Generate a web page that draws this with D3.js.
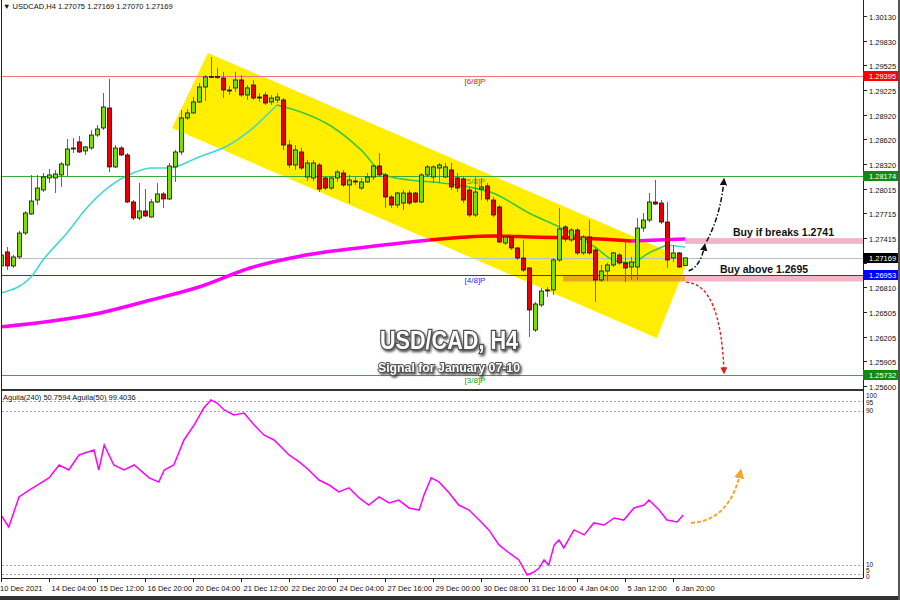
<!DOCTYPE html>
<html><head><meta charset="utf-8">
<script src="https://cdn.jsdelivr.net/npm/d3@7"></script>
<style>
body{margin:0;background:#fff}
svg{display:block}
text{font-family:"Liberation Sans",Arial,sans-serif}
</style></head>
<body><svg id="c" width="900" height="600"></svg>
<script>
// ---------------- DATA ----------------
// candles: [open, high, low, close] per H4 bar, from 10 Dec 2021 20:00
const candles = [
[1.27070,1.27229,1.27045,1.27204],[1.27241,1.27302,1.27020,1.27070],[1.27070,1.27204,1.27045,1.27180],
[1.27180,1.27498,1.27155,1.27473],[1.27473,1.27743,1.27449,1.27718],[1.27706,1.28184,1.27694,1.27865],
[1.27877,1.28184,1.27816,1.28024],[1.28000,1.28208,1.27975,1.28159],[1.28147,1.28257,1.28086,1.28184],
[1.28147,1.28245,1.27963,1.28196],[1.28184,1.28343,1.28037,1.28318],[1.28306,1.28624,1.28159,1.28502],
[1.28502,1.28637,1.28453,1.28514],[1.28588,1.28661,1.28453,1.28465],[1.28478,1.28539,1.28429,1.28527],
[1.28514,1.28734,1.28490,1.28673],[1.28673,1.28796,1.28649,1.28747],[1.28759,1.29187,1.28734,1.29016],
[1.29004,1.29359,1.28220,1.28282],[1.28282,1.28551,1.28269,1.28514],[1.28514,1.28539,1.28416,1.28429],
[1.28429,1.28453,1.27840,1.27853],[1.27853,1.27877,1.27632,1.27657],[1.27657,1.28086,1.27632,1.27743],
[1.27743,1.28012,1.27669,1.27682],[1.27669,1.27890,1.27660,1.27853],[1.27853,1.28086,1.27840,1.27951],
[1.27951,1.27975,1.27779,1.27890],[1.27890,1.28330,1.27877,1.28294],[1.28282,1.28490,1.28098,1.28465],
[1.28465,1.28979,1.28429,1.28882],[1.28882,1.28992,1.28857,1.28943],[1.28943,1.29138,1.28930,1.29077],
[1.29077,1.29310,1.29065,1.29261],[1.29261,1.29408,1.29089,1.29383],[1.29383,1.29628,1.29371,1.29390],
[1.29375,1.29493,1.29359,1.29390],[1.29371,1.29445,1.29126,1.29224],[1.29224,1.29273,1.29163,1.29215],
[1.29249,1.29445,1.29200,1.29347],[1.29347,1.29408,1.29138,1.29163],[1.29163,1.29285,1.29102,1.29249],
[1.29285,1.29347,1.29102,1.29126],[1.29138,1.29187,1.29077,1.29130],[1.29163,1.29200,1.29041,1.29065],
[1.29077,1.29163,1.29041,1.29126],[1.29102,1.29187,1.29065,1.29138],[1.29102,1.29126,1.28490,1.28551],
[1.28551,1.28612,1.28269,1.28306],[1.28306,1.28551,1.28245,1.28490],[1.28465,1.28514,1.28245,1.28269],
[1.28159,1.28367,1.28110,1.28330],[1.28147,1.28367,1.28110,1.28330],[1.28306,1.28330,1.27975,1.28012],
[1.28147,1.28159,1.28000,1.28024],[1.28024,1.28159,1.28000,1.28147],[1.28147,1.28245,1.28098,1.28220],
[1.28208,1.28245,1.28037,1.28061],[1.28061,1.28184,1.27840,1.28122],[1.28110,1.28159,1.28061,1.28098],
[1.28024,1.28147,1.28000,1.28098],[1.28098,1.28208,1.28086,1.28159],[1.28159,1.28306,1.28122,1.28294],
[1.28294,1.28453,1.28159,1.28184],[1.28184,1.28208,1.27779,1.27914],[1.27914,1.27938,1.27779,1.27816],
[1.27816,1.27975,1.27779,1.27963],[1.27840,1.28000,1.27755,1.27963],[1.27963,1.28000,1.27816,1.27840],
[1.27963,1.27975,1.27840,1.27853],[1.27853,1.28208,1.27840,1.28184],[1.28184,1.28306,1.28159,1.28282],
[1.28159,1.28306,1.28086,1.28282],[1.28269,1.28330,1.28086,1.28306],[1.28159,1.28330,1.28147,1.28282],
[1.28245,1.28330,1.28000,1.28037],[1.28147,1.28208,1.27975,1.28024],[1.28135,1.28159,1.27840,1.27877],
[1.28000,1.28037,1.27669,1.27694],[1.27694,1.28159,1.27669,1.27975],[1.28012,1.28147,1.27877,1.28037],
[1.28049,1.28086,1.27853,1.27890],[1.27877,1.27914,1.27669,1.27694],[1.27792,1.27816,1.27351,1.27363],
[1.27351,1.27449,1.27326,1.27424],[1.27424,1.27449,1.27265,1.27290],[1.27290,1.27302,1.27143,1.27167],
[1.27167,1.27388,1.26996,1.27020],[1.27045,1.27057,1.26200,1.26531],[1.26286,1.26629,1.26261,1.26604],
[1.26592,1.26800,1.26567,1.26763],[1.26776,1.26812,1.26690,1.26770],[1.26776,1.27167,1.26714,1.27143],
[1.27143,1.27779,1.27118,1.27522],[1.27547,1.27571,1.27363,1.27400],[1.27388,1.27534,1.27363,1.27510],
[1.27510,1.27534,1.27204,1.27229],[1.27229,1.27449,1.27204,1.27424],[1.27424,1.27632,1.27204,1.27229],
[1.27265,1.27290,1.26629,1.26898],[1.26898,1.27082,1.26873,1.27008],[1.27008,1.27106,1.26886,1.27082],
[1.27082,1.27241,1.27057,1.27229],[1.27204,1.27229,1.27082,1.27106],[1.27106,1.27363,1.26873,1.27045],
[1.27057,1.27180,1.26898,1.27118],[1.27057,1.27657,1.26898,1.27534],[1.27534,1.27718,1.27486,1.27632],
[1.27632,1.27963,1.27608,1.27853],[1.27853,1.28122,1.27816,1.27828],[1.27840,1.27877,1.27583,1.27608],
[1.27608,1.27853,1.27045,1.27143],[1.27167,1.27326,1.27118,1.27229],[1.27229,1.27241,1.27045,1.27057],
[1.27075,1.27169,1.27070,1.27169]
];
// fast moving average: [bar index, price]
const maFast = [[0,1.26739],[5,1.26935],[7,1.27143],[11,1.27473],[14,1.27755],[18,1.28037],[22,1.28208],
[25,1.28269],[28,1.28269],[33,1.28404],[38,1.28551],[41,1.28698],[46,1.29040],[50,1.28955],[55,1.28783],
[60,1.28490],[64,1.28184],[68,1.28122],[72,1.28098],[78,1.28037],[82,1.27963],[88,1.27718],[93,1.27547],
[99,1.27302],[102,1.27143],[105,1.27106],[108,1.27229],[111,1.27326],[114,1.27302]];
// slow moving average: [bar index, price]
const maSlow = [[0,1.26323],[16.5,1.26494],[25,1.26653],[33,1.26812],[41.5,1.27045],[50,1.27192],
[61,1.27302],[71.5,1.27388],[82,1.27437],[88.5,1.27424],[99.7,1.27400],[105,1.27375],[114,1.27400]];
// Aguila oscillator: [bar index, value]
const aguila = [[0,35.8],[1.3,29.6],[3,45.2],[4.7,48.8],[8,55.1],[9.7,61.8],[11.3,59.2],[13,67.0],[15.5,69.6],
[16.3,59.2],[17.2,72.2],[18.8,61.8],[20.5,59.2],[22.2,61.8],[24.7,55.1],[26.3,53.0],[27.2,59.2],[28.8,61.8],
[30.5,74.8],[32.2,82.6],[33.8,91.4],[35,95.6],[36,94.0],[37.2,90.4],[38.8,87.8],[40.5,88.8],[42.2,82.6],
[43.8,77.4],[45.5,74.8],[47.2,69.6],[48,67.0],[49.7,63.4],[51.3,59.2],[53,54.0],[54.7,51.4],[56.3,47.8],
[58,49.9],[59.7,44.7],[61.3,41.0],[63,45.2],[64.7,42.1],[66.3,43.6],[68,39.5],[69.7,38.4],[70.5,46.2],
[71.7,55.1],[73,53.0],[74.7,47.3],[76.3,41.0],[78,38.4],[79.7,33.2],[81.3,28.1],[83,20.3],[84.7,16.1],
[86.3,12.5],[87.7,4.7],[88.8,6.2],[89.7,8.3],[90.5,12.5],[91.3,9.9],[92.2,20.3],[93,22.9],[93.8,18.7],
[95.5,28.1],[97.2,25.5],[98.8,31.7],[100.5,30.6],[102.2,34.3],[103.8,33.2],[105.5,39.5],[107.2,41.0],
[108,43.6],[109.7,38.4],[111,33.2],[112.7,32.2],[113.7,35.8]];
const timeLabels = ["10 Dec 2021","14 Dec 04:00","15 Dec 12:00","16 Dec 20:00","20 Dec 04:00","21 Dec 12:00",
"22 Dec 20:00","24 Dec 04:00","27 Dec 16:00","29 Dec 00:00","30 Dec 08:00","31 Dec 16:00","4 Jan 04:00",
"5 Jan 12:00","6 Jan 20:00"];
const priceTicks = [1.30130,1.29830,1.29525,1.29225,1.28920,1.28620,1.28320,1.28015,1.27715,1.27415,
1.27110,1.26810,1.26505,1.26205,1.25905,1.25600];
const levelPrices = [1.29395,1.28174,1.26953,1.25732];
const levelNames = ["[6/8]P","[5/8]P","[4/8]P","[3/8]P"];
const lastPrice = 1.27169;
const channel = [[34.5,1.29677],[114.5,1.27143],[109.3,1.26188],[28.5,1.28759]];
const buyBreak = [1.2741,1.2734];
const buyAbove = [1.2695,1.2688];
const indLevels = [95,90,10,5];
const indAxisLabels = ["100","95","90","10","5","0"];

// ---------------- SCALES ----------------
const svg = d3.select("#c");
const PL=2, PR=863, PB=389, IT=391, IB=578;
const x = d3.scaleLinear().domain([0,114]).range([1,685]);
const y = d3.scaleLinear().domain([1.25600,1.30130]).range([386,16]);
const yi = d3.scaleLinear().domain([3.1,99.2]).range([578,393]);

const defs = svg.append("defs");
defs.append("clipPath").attr("id","cm").append("rect").attr("x",PL).attr("y",0).attr("width",PR-PL).attr("height",PB);
defs.append("clipPath").attr("id","ci").append("rect").attr("x",PL).attr("y",IT).attr("width",PR-PL).attr("height",IB-IT);
const f = defs.append("filter").attr("id","sh").attr("x","-10%").attr("y","-20%").attr("width","130%").attr("height","160%");
f.append("feDropShadow").attr("dx",1.5).attr("dy",2).attr("stdDeviation",1).attr("flood-color","#333").attr("flood-opacity",0.8);
function marker(id,color){
  defs.append("marker").attr("id",id).attr("viewBox","0 0 10 10").attr("refX",8).attr("refY",5)
   .attr("markerWidth",5).attr("markerHeight",5).attr("orient","auto-start-reverse")
   .append("path").attr("d","M0,0L10,5L0,10z").attr("fill",color);
}
marker("mk","#111"); marker("mr","#e02020"); marker("mo","#f5a623");

svg.append("rect").attr("width",900).attr("height",600).attr("fill","#fff");

const main = svg.append("g").attr("clip-path","url(#cm)");

// channel
main.append("path").attr("d","M"+channel.map(p=>x(p[0])+","+y(p[1])).join("L")+"Z").attr("fill","#ffee00");
// orange band
main.append("rect").attr("x",x(93.7)).attr("width",x(114)-x(93.7)).attr("y",y(buyAbove[0])).attr("height",y(buyAbove[1])-y(buyAbove[0]))
  .attr("fill","#e9a21a").attr("opacity",0.9);
// pink bands
[buyBreak,buyAbove].forEach(b=>{
  main.append("rect").attr("x",x(114)).attr("width",PR-x(114)).attr("y",y(b[0])).attr("height",y(b[1])-y(b[0])).attr("fill","#f2b4c8");
});
// level lines
const levelColors = ["#f07878","#3aa83a","#2a2aff","#3aa83a"];
const levelTextColors = ["#e02020","#5a9a1a","#2a2aff","#20a020"];
levelPrices.forEach((p,i)=>{
  main.append("line").attr("x1",PL).attr("x2",PR).attr("y1",Math.round(y(p))+0.5).attr("y2",Math.round(y(p))+0.5)
    .attr("stroke",levelColors[i]).attr("stroke-width",1);
  main.append("text").attr("x",475).attr("y",Math.round(y(p))+7.5).attr("text-anchor","middle")
    .attr("font-size",8).attr("fill",levelTextColors[i]).text(levelNames[i]);
});
// last price line
main.append("line").attr("x1",PL).attr("x2",PR).attr("y1",Math.round(y(lastPrice))+0.5).attr("y2",Math.round(y(lastPrice))+0.5)
  .attr("stroke","#b4c0ca").attr("stroke-width",1.2);

// slow MA
const line = d3.line().x(d=>x(d[0])).y(d=>y(d[1])).curve(d3.curveMonotoneX);
function seg(arr,a,b){return arr.filter(d=>d[0]>=a&&d[0]<=b);}
main.append("path").attr("d",line(seg(maSlow,0,72))).attr("fill","none").attr("stroke","#ff00ff").attr("stroke-width",3.5);
main.append("path").attr("d",line(seg(maSlow,71,106))).attr("fill","none").attr("stroke","#ff0000").attr("stroke-width",3.5);
main.append("path").attr("d",line(seg(maSlow,105,114))).attr("fill","none").attr("stroke","#ff00ff").attr("stroke-width",3.5);
// fast MA
main.append("path").attr("d",line(seg(maFast,0,46))).attr("fill","none").attr("stroke","#40d8d0").attr("stroke-width",1.6);
main.append("path").attr("d",line(seg(maFast,46,111))).attr("fill","none").attr("stroke","#3cc83c").attr("stroke-width",1.6);
main.append("path").attr("d",line(seg(maFast,111,114))).attr("fill","none").attr("stroke","#40d8d0").attr("stroke-width",1.6);

// candles
const cg = main.append("g");
candles.forEach((c,i)=>{
  const [o,h,l,cl]=c; const cx=Math.round(x(i))+0.5;
  cg.append("line").attr("x1",cx).attr("x2",cx).attr("y1",y(h)).attr("y2",y(l)).attr("stroke","#666").attr("stroke-width",1);
  const top=Math.min(y(o),y(cl)), bot=Math.max(y(o),y(cl));
  const up = cl>=o;
  cg.append("rect").attr("x",cx-2).attr("width",4).attr("y",top).attr("height",Math.max(1,bot-top))
    .attr("fill",up?"#7ddc00":"#e80000").attr("stroke","#111").attr("stroke-width",0.8);
});

// title texts
svg.append("text").attr("x",449).attr("y",349).attr("text-anchor","middle").attr("font-size",25).attr("font-weight","bold")
  .attr("textLength",138).attr("lengthAdjust","spacingAndGlyphs")
  .attr("fill","#fff").attr("stroke","#505050").attr("stroke-width",2.6).attr("paint-order","stroke").attr("filter","url(#sh)")
  .text("USD/CAD, H4");
svg.append("text").attr("x",449).attr("y",372).attr("text-anchor","middle").attr("font-size",13).attr("font-weight","bold")
  .attr("textLength",142).attr("lengthAdjust","spacingAndGlyphs")
  .attr("fill","#fff").attr("stroke","#505050").attr("stroke-width",1.8).attr("paint-order","stroke").attr("filter","url(#sh)")
  .text("Signal for January 07-10");

// annotations
svg.append("text").attr("x",733).attr("y",236).attr("font-size",10.5).attr("font-weight","bold").attr("fill","#111").text("Buy if breaks 1.2741");
svg.append("text").attr("x",720).attr("y",273).attr("font-size",10.5).attr("font-weight","bold").attr("fill","#111").text("Buy above 1.2695");
svg.append("path").attr("d",`M${x(114.6)},${y(1.2701)} Q${x(116.6)},${y(1.2706)} ${x(117.3)},${y(1.2733)}`)
  .attr("fill","none").attr("stroke","#111").attr("stroke-width",1.5).attr("stroke-dasharray","5,2,1.5,2").attr("marker-end","url(#mk)");
svg.append("path").attr("d",`M${x(117.6)},${y(1.2737)} Q${x(120)},${y(1.2770)} ${x(120.5)},${y(1.2813)}`)
  .attr("fill","none").attr("stroke","#111").attr("stroke-width",1.5).attr("stroke-dasharray","5,2,1.5,2").attr("marker-end","url(#mk)");
svg.append("path").attr("d",`M${x(114.2)},${y(1.2687)} Q${x(120)},${y(1.2685)} ${x(120.5)},${y(1.2576)}`)
  .attr("fill","none").attr("stroke","#e02020").attr("stroke-width",1.4).attr("stroke-dasharray","3,2").attr("marker-end","url(#mr)");

// header
svg.append("text").attr("x",3).attr("y",9).attr("font-size",7.5).attr("fill","#111").text("\u25BC USDCAD,H4  1.27075 1.27169 1.27070 1.27169");

// right axis
const ax = svg.append("g");
ax.append("line").attr("x1",PR+0.5).attr("x2",PR+0.5).attr("y1",0).attr("y2",IB).attr("stroke","#222");
const boxed = levelPrices.concat([lastPrice]);
priceTicks.forEach(p=>{
  const yy=Math.round(y(p))+0.5;
  ax.append("line").attr("x1",PR).attr("x2",PR+4).attr("y1",yy).attr("y2",yy).attr("stroke","#222");
  if (boxed.some(b=>Math.abs(y(b)-y(p))<9)) return; // hidden behind a price box
  ax.append("text").attr("x",PR+6).attr("y",yy+3).attr("font-size",7.5).attr("fill","#111").text(p.toFixed(5));
});
const boxColors = ["#ff0000","#118a11","#0000ff","#118a11"];
function box(p,col){
  const yy=Math.round(y(p));
  ax.append("rect").attr("x",PR).attr("y",yy-5).attr("width",36).attr("height",10).attr("fill",col);
  ax.append("text").attr("x",PR+6).attr("y",yy+3).attr("font-size",7.5).attr("fill","#fff").text(p.toFixed(5));
}
levelPrices.forEach((p,i)=>box(p,boxColors[i]));
box(lastPrice,"#000");

// panel frames
svg.append("line").attr("x1",1.5).attr("x2",1.5).attr("y1",0).attr("y2",IB).attr("stroke","#222");
svg.append("rect").attr("x",PL).attr("y",PB).attr("width",PR-PL).attr("height",2).attr("fill","#333");
svg.append("line").attr("x1",PL).attr("x2",PR).attr("y1",IB+0.5).attr("y2",IB+0.5).attr("stroke","#222");

// indicator panel
const ind = svg.append("g").attr("clip-path","url(#ci)");
indLevels.forEach(v=>{
  ind.append("line").attr("x1",PL).attr("x2",PR).attr("y1",Math.round(yi(v))+0.5).attr("y2",Math.round(yi(v))+0.5)
    .attr("stroke","#aaa").attr("stroke-dasharray","2,2");
});
ind.append("path").attr("d",d3.line().x(d=>x(d[0])).y(d=>yi(d[1]))(aguila)).attr("fill","none").attr("stroke","#ff00ff").attr("stroke-width",1.5);
svg.append("text").attr("x",3).attr("y",400).attr("font-size",7.5).attr("fill","#111").text("Aguila(240) 50.7594  Aguila(50) 99.4036");
svg.append("path").attr("d",`M${x(115)},${yi(31.7)} Q${x(121.6)},${yi(33)} ${x(123.3)},${yi(59)}`)
  .attr("fill","none").attr("stroke","#f5a623").attr("stroke-width",2).attr("stroke-dasharray","4,2").attr("marker-end","url(#mo)");
const indLabelY = [398, 405, 413, 567, 573, 579];
indAxisLabels.forEach((t,i)=>{
  svg.append("text").attr("x",PR+3).attr("y",indLabelY[i]).attr("font-size",6.5).attr("fill","#111").text(t);
});

// x axis
timeLabels.forEach((t,k)=>{
  const i=k*8; const xx=Math.round(x(i))+0.5;
  svg.append("line").attr("x1",xx).attr("x2",xx).attr("y1",IB).attr("y2",IB+4).attr("stroke","#222");
  svg.append("text").attr("x",k===0?0:xx+2).attr("y",591).attr("font-size",7.5).attr("fill","#111").text(t);
});
// outer border
svg.append("rect").attr("x",0).attr("y",596).attr("width",900).attr("height",4).attr("fill","#333");
svg.append("rect").attr("x",898).attr("y",0).attr("width",2).attr("height",600).attr("fill","#555");
</script>
</body></html>
